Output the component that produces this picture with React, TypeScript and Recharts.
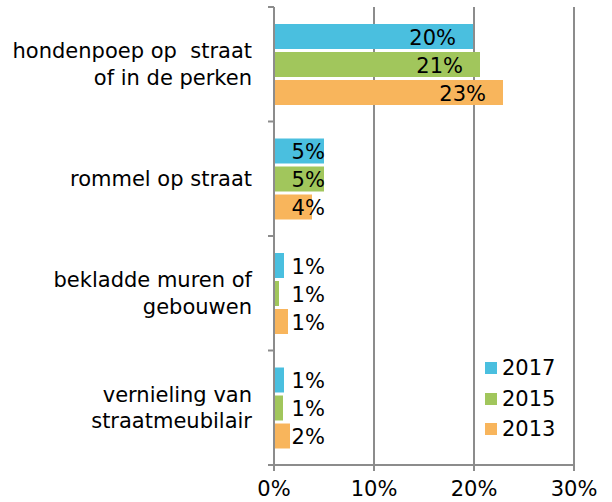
import { BarChart, Bar, XAxis, YAxis, CartesianGrid, Legend, LabelList } from 'recharts';

const categories = [
  'hondenpoep op  straat\nof in de perken',
  'rommel op straat',
  'bekladde muren of\ngebouwen',
  'vernieling van\nstraatmeubilair',
];
const seriesNames = ['2017', '2015', '2013'];
const v2017 = [19.9, 5.0, 1.0, 1.0];
const v2015 = [20.6, 5.0, 0.5, 0.9];
const v2013 = [22.9, 3.8, 1.4, 1.6];
const xTicks = [0, 10, 20, 30];

const data = categories.map((name, i) => ({
  name,
  y2017: v2017[i],
  y2015: v2015[i],
  y2013: v2013[i],
}));

const FONT = '"DejaVu Sans", Verdana, sans-serif';
const AXIS = '#8c8c8c';
const TOP = 7;
const PLOT_H = 458;
const BAND = PLOT_H / categories.length;

function CategoryTick(props: any) {
  const { x, y, payload, index } = props;
  const lines: string[] = String(payload.value).split('\n');
  const lh = 26.5;
  const start = y - ((lines.length - 1) * lh) / 2;
  return (
    <g>
      <line x1={x - 6} x2={x} y1={y - BAND / 2} y2={y - BAND / 2} stroke={AXIS} strokeWidth={2} />
      {index === categories.length - 1 && (
        <line x1={x - 6} x2={x} y1={y + BAND / 2} y2={y + BAND / 2} stroke={AXIS} strokeWidth={2} />
      )}
      <text
        x={x - 22}
        y={start}
        textAnchor="end"
        fontFamily={FONT}
        fontSize={21}
        fill="#000"
        dominantBaseline="central"
        style={{ whiteSpace: 'pre' }}
      >
        {lines.map((l, i) => (
          <tspan key={i} x={x - 22} y={start + i * lh} style={{ whiteSpace: 'pre' }}>
            {l}
          </tspan>
        ))}
      </text>
    </g>
  );
}

function BarLabel(props: any) {
  const { x, y, width, height, value } = props;
  const big = value >= 10;
  return (
    <text
      x={big ? x + width - 17 : x + 17.5}
      y={y + height / 2 + 1}
      textAnchor={big ? 'end' : 'start'}
      dominantBaseline="central"
      fontFamily={FONT}
      fontSize={21}
      fill="#000"
    >
      {Math.round(value)}%
    </text>
  );
}

function LegendBox(props: any) {
  const items = [...(props.payload || [])].sort(
    (a: any, b: any) => seriesNames.indexOf(a.value) - seriesNames.indexOf(b.value)
  );
  return (
    <div style={{ fontFamily: FONT, fontSize: 21, color: '#000' }}>
      {items.map((p: any) => (
        <div key={p.value} style={{ height: 30.5, display: 'flex', alignItems: 'center' }}>
          <span style={{ width: 12, height: 12, background: p.color, marginRight: 5, display: 'inline-block' }} />
          <span>{p.value}</span>
        </div>
      ))}
    </div>
  );
}

export default function App() {
  return (
    <div style={{ position: 'absolute', left: 0, top: 0, background: '#fff' }}>
      <BarChart
        width={612}
        height={502}
        data={data}
        layout="vertical"
        margin={{ top: TOP, right: 38, bottom: 7, left: 0 }}
        barCategoryGap={17}
        barGap={3}
      >
        <CartesianGrid horizontal={false} stroke={AXIS} strokeWidth={2} />
        <XAxis
          type="number"
          domain={[0, 30]}
          ticks={xTicks}
          height={30}
          tickFormatter={(v: number) => `${v}%`}
          axisLine={{ stroke: AXIS, strokeWidth: 2 }}
          tickLine={{ stroke: AXIS, strokeWidth: 2 }}
          tickSize={6}
          tickMargin={10}
          tick={{ fontFamily: FONT, fontSize: 21, fill: '#000' }}
          interval={0}
        />
        <YAxis
          type="category"
          dataKey="name"
          width={274}
          axisLine={{ stroke: AXIS, strokeWidth: 2 }}
          tickLine={false}
          tickSize={0}
          tickMargin={0}
          tick={<CategoryTick />}
          interval={0}
        />
        <Legend
          layout="horizontal"
          verticalAlign="middle"
          align="center"
          content={<LegendBox />}
          wrapperStyle={{ left: 485, top: 353, width: 'auto' }}
        />
        <Bar dataKey="y2017" name="2017" fill="#4ABFDF" isAnimationActive={false}>
          <LabelList dataKey="y2017" content={<BarLabel />} />
        </Bar>
        <Bar dataKey="y2015" name="2015" fill="#A1C65C" isAnimationActive={false}>
          <LabelList dataKey="y2015" content={<BarLabel />} />
        </Bar>
        <Bar dataKey="y2013" name="2013" fill="#F8B55C" isAnimationActive={false}>
          <LabelList dataKey="y2013" content={<BarLabel />} />
        </Bar>
      </BarChart>
    </div>
  );
}
